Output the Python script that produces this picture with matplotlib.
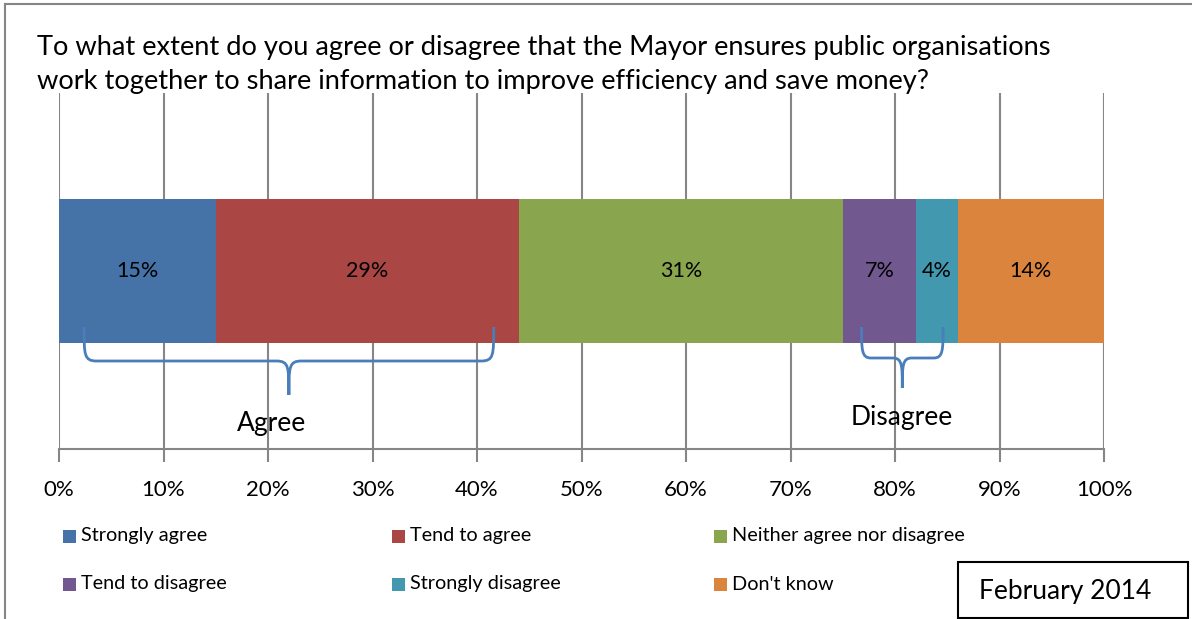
import matplotlib
matplotlib.use("Agg")
import matplotlib.pyplot as plt
from matplotlib.path import Path
from matplotlib.patches import PathPatch, Rectangle

categories = ["Strongly agree", "Tend to agree", "Neither agree nor disagree",
              "Tend to disagree", "Strongly disagree", "Don't know"]
values = [15, 29, 31, 7, 4, 14]
colors = ["#4572A7", "#AA4643", "#89A54E", "#71588F", "#4198AF", "#DB843D"]
tick_values = [0, 10, 20, 30, 40, 50, 60, 70, 80, 90, 100]
tick_labels = [f"{v}%" for v in tick_values]
title = ("To what extent do you agree or disagree that the Mayor ensures public organisations\n"
         "work together to share information to improve efficiency and save money?")

FONT = ["Lato", "DejaVu Sans"]
plt.rcParams["font.family"] = FONT

W, H = 1192, 619
fig = plt.figure(figsize=(W / 100, H / 100), dpi=100)

def fx(px):
    return px / W

def fy(py):
    return 1 - py / H

# outer frame (top and left edges)
fig.add_artist(plt.Line2D([fx(5), fx(5)], [fy(4), 0], transform=fig.transFigure,
                          color="#868686", lw=1.5))
fig.add_artist(plt.Line2D([fx(5), 1], [fy(4), fy(4)], transform=fig.transFigure,
                          color="#868686", lw=1.5))

ax = fig.add_axes([fx(59), fy(449), fx(1104) - fx(59), fy(93) - fy(449)])
ax.set_xlim(0, 100)
ax.set_ylim(-178, 178)

grid_c = "#868686"
for v in tick_values:
    ax.axvline(v, color=grid_c, lw=1.5, zorder=0)

left = 0
for cat, val, col in zip(categories, values, colors):
    ax.barh(0, val, left=left, height=144, color=col, label=cat, zorder=2)
    ax.text(left + val / 2, 0, f"{val}%", ha="center", va="center",
            fontsize=15.5, color="black", zorder=3)
    left += val

for s in ["top", "right", "left"]:
    ax.spines[s].set_visible(False)
ax.spines["bottom"].set_color(grid_c)
ax.spines["bottom"].set_linewidth(1.5)
ax.set_yticks([])
ax.set_xticks(tick_values)
ax.set_xticklabels(tick_labels, fontsize=16)
ax.tick_params(axis="x", length=9, width=1.5, color=grid_c, pad=13)


def brace(x0, x1, xm, ytop, ymid, ytip, r=1.2, rr=6):
    verts = [
        (x0, ytop),
        (x0, ymid + rr), (x0, ymid), (x0 + r, ymid),
        (xm - r, ymid),
        (xm, ymid), (xm, ymid - rr), (xm, ytip),
        (xm, ymid - rr), (xm, ymid), (xm + r, ymid),
        (x1 - r, ymid),
        (x1, ymid), (x1, ymid + rr), (x1, ytop),
    ]
    codes = [Path.MOVETO,
             Path.CURVE4, Path.CURVE4, Path.CURVE4,
             Path.LINETO,
             Path.CURVE4, Path.CURVE4, Path.CURVE4,
             Path.CURVE4, Path.CURVE4, Path.CURVE4,
             Path.LINETO,
             Path.CURVE4, Path.CURVE4, Path.CURVE4]
    p = PathPatch(Path(verts, codes), fill=False, edgecolor="#4A7EBB", lw=2,
                  zorder=4, clip_on=False)
    ax.add_patch(p)

brace(2.4, 41.6, 22.0, -56, -90, -124)
brace(76.8, 84.6, 80.7, -56, -87, -117, r=0.9, rr=8)
ax.text(20.3, -153, "Agree", ha="center", va="center", fontsize=19)
ax.text(80.6, -147, "Disagree", ha="center", va="center", fontsize=19)

fig.text(fx(37), fy(64.5), title, ha="left", va="center", fontsize=19.6,
         linespacing=1.45)

# legend (drawn manually: 2 rows x 3 columns)
leg_cols_x = [63, 392, 714]
leg_rows_y = [536, 584]
sq = 13
for i, (cat, col) in enumerate(zip(categories, colors)):
    r, c = divmod(i, 3)
    x0, yc = leg_cols_x[c], leg_rows_y[r]
    fig.add_artist(Rectangle((fx(x0), fy(yc + sq / 2)), sq / W, sq / H,
                             transform=fig.transFigure, facecolor=col,
                             edgecolor="none"))
    fig.text(fx(x0 + sq + 5), fy(yc), cat, ha="left", va="center", fontsize=14.3)

# date box
fig.add_artist(Rectangle((fx(958), fy(618)), fx(1188) - fx(958), fy(562) - fy(618),
                         transform=fig.transFigure, fill=False, edgecolor="black", lw=1.5))
fig.text(fx(1065), fy(591), "February 2014", ha="center", va="center", fontsize=19)

fig.savefig("out.png", dpi=100)
